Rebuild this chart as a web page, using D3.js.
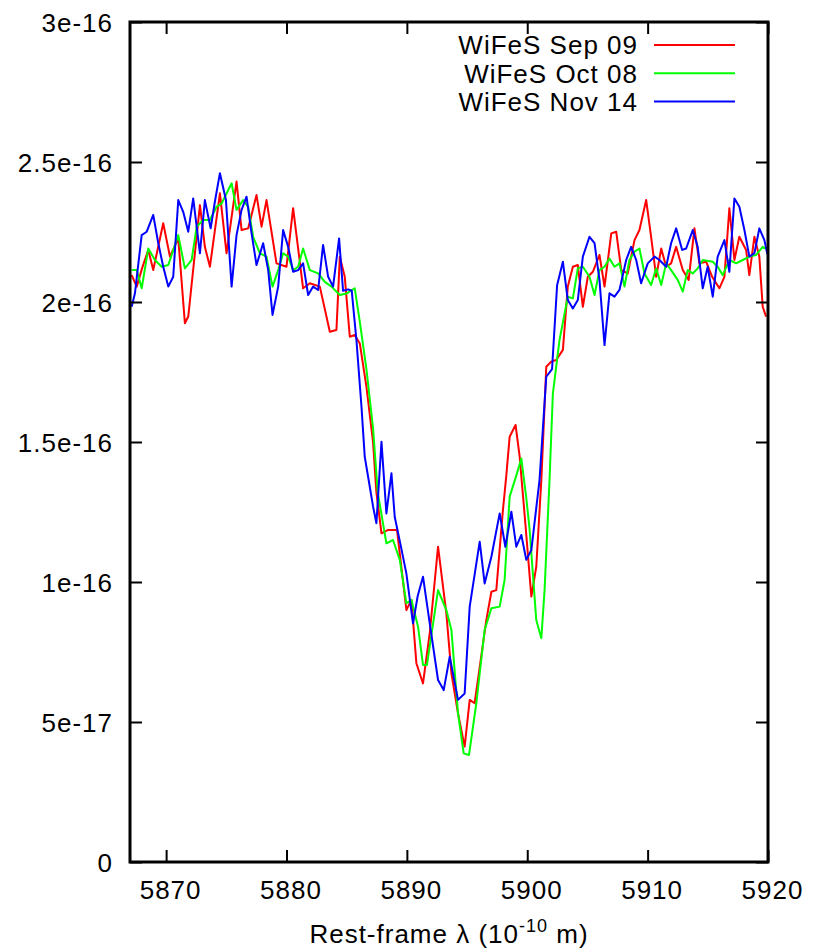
<!DOCTYPE html>
<html>
<head>
<meta charset="utf-8">
<script src="https://cdn.jsdelivr.net/npm/d3@7"></script>
<style>
  html, body { margin: 0; padding: 0; background: #fff; }
  svg { display: block; }
  text { font-family: "Liberation Sans", Arial, Helvetica, sans-serif; fill: #000; letter-spacing: 1px; }
</style>
</head>
<body>
<svg id="chart" width="820" height="950"></svg>
<script>
// Flux values are in units of 1e-16 (erg s^-1 cm^-2 A^-1), wavelengths in Angstrom.
const FLUX_UNIT = 1e-16;

// WiFeS Sep 09
const sepWave = [5867.14,5867.56,5868.00,5868.52,5868.93,5869.76,5870.32,5871.01,5871.56,5871.84,5872.81,5873.22,5873.64,5874.47,5875.02,5875.85,5876.27,5876.82,5877.51,5877.93,5878.34,5879.17,5880.00,5880.55,5881.38,5881.94,5882.77,5883.60,5884.15,5884.43,5884.84,5885.26,5885.67,5886.09,5886.64,5887.19,5887.47,5887.89,5888.44,5889.18,5889.96,5890.38,5890.79,5891.34,5891.90,5892.59,5893.28,5893.70,5894.25,5894.80,5895.22,5895.63,5896.60,5897.02,5897.43,5897.98,5898.26,5898.54,5899.03,5899.37,5899.86,5900.34,5900.75,5901.17,5901.58,5901.99,5902.41,5902.96,5903.37,5903.79,5904.20,5904.62,5905.03,5905.45,5906.00,5906.42,5906.98,5907.39,5907.81,5908.35,5908.91,5909.32,5909.88,5910.29,5910.71,5911.13,5911.54,5911.95,5912.37,5912.92,5913.41,5913.89,5914.30,5914.86,5915.36,5915.96,5916.38,5916.79,5917.21,5917.62,5918.18,5918.45,5918.87,5919.28,5919.56,5919.84];
const sepFlux = [2.096,2.055,2.120,2.186,2.114,2.281,2.162,2.227,1.924,1.948,2.346,2.197,2.126,2.388,2.174,2.430,2.257,2.263,2.382,2.269,2.364,2.138,2.126,2.335,2.049,2.067,2.055,1.894,1.900,2.162,2.090,1.876,1.882,1.852,1.698,1.500,1.320,1.174,1.186,1.186,0.900,0.936,0.710,0.638,0.817,1.126,0.888,0.674,0.531,0.412,0.579,0.567,0.864,0.965,0.971,1.257,1.380,1.519,1.561,1.448,1.200,0.948,1.055,1.364,1.769,1.787,1.793,1.829,2.055,2.126,2.132,1.983,2.090,2.108,2.168,2.055,2.245,2.251,2.114,2.102,2.221,2.257,2.364,2.233,2.090,2.191,2.126,2.138,2.197,2.114,2.079,2.263,2.138,2.144,2.090,2.049,2.090,2.335,2.150,2.233,2.186,2.096,2.233,2.162,1.983,1.948];

// WiFeS Oct 08
const octWave = [5867.14,5867.56,5867.97,5868.52,5869.07,5869.63,5870.18,5871.01,5871.56,5872.12,5872.54,5873.08,5873.64,5874.19,5874.61,5875.44,5875.85,5876.40,5876.82,5877.23,5877.79,5878.34,5878.84,5879.31,5879.72,5880.14,5880.55,5880.97,5881.38,5881.94,5882.63,5883.18,5883.74,5884.43,5884.98,5885.67,5886.09,5886.64,5887.19,5887.58,5888.30,5888.85,5889.41,5889.96,5890.38,5890.93,5891.34,5891.67,5892.59,5893.28,5893.70,5894.25,5894.72,5895.16,5895.77,5896.46,5897.02,5897.71,5898.12,5898.54,5899.09,5899.51,5899.92,5900.20,5900.75,5901.17,5901.44,5901.85,5902.13,5902.68,5903.37,5903.79,5904.20,5904.62,5905.17,5905.59,5906.00,5906.42,5906.83,5907.25,5907.66,5908.08,5908.49,5908.91,5909.32,5909.74,5910.29,5910.71,5911.13,5911.54,5911.95,5912.50,5912.92,5913.33,5913.75,5914.16,5914.58,5915.41,5915.82,5916.24,5916.79,5917.35,5917.90,5918.45,5919.01,5919.56,5919.86];
const octFlux = [2.114,2.114,2.049,2.191,2.150,2.126,2.132,2.239,2.120,2.150,2.269,2.293,2.293,2.340,2.352,2.424,2.329,2.364,2.340,2.233,2.174,2.162,2.055,2.114,2.174,2.162,2.114,2.126,2.191,2.114,2.102,2.072,2.055,2.025,2.030,2.049,1.930,1.760,1.550,1.320,1.138,1.150,1.079,0.924,0.936,0.840,0.704,0.704,0.971,0.900,0.829,0.531,0.388,0.382,0.567,0.829,0.906,0.912,1.007,1.305,1.380,1.441,1.300,1.186,0.864,0.799,0.971,1.364,1.674,1.864,2.019,2.013,2.120,2.126,2.090,2.025,2.114,2.126,2.155,2.126,2.138,2.055,2.150,2.180,2.191,2.102,2.061,2.120,2.061,2.138,2.114,2.079,2.037,2.114,2.102,2.120,2.150,2.144,2.126,2.096,2.150,2.138,2.150,2.162,2.168,2.197,2.190];

// WiFeS Nov 14
const novWave = [5867.14,5867.41,5867.97,5868.39,5868.93,5869.35,5869.76,5870.18,5870.59,5871.01,5871.42,5871.84,5872.25,5872.81,5873.22,5873.70,5874.05,5874.47,5874.97,5875.44,5875.85,5876.27,5876.68,5877.10,5877.51,5878.06,5878.48,5878.84,5879.31,5879.72,5880.14,5880.55,5880.97,5881.38,5881.80,5882.21,5882.63,5883.04,5883.46,5883.87,5884.37,5884.70,5885.12,5885.42,5885.81,5886.23,5886.50,5886.78,5887.19,5887.47,5887.89,5888.30,5888.72,5888.99,5889.49,5889.96,5890.51,5890.90,5891.34,5891.90,5892.59,5893.06,5893.56,5894.25,5894.80,5895.22,5896.05,5896.46,5897.02,5897.71,5898.18,5898.68,5899.09,5899.51,5899.92,5900.34,5901.02,5901.58,5902.06,5902.48,5902.96,5903.37,5903.79,5904.20,5904.62,5905.17,5905.59,5906.00,5906.42,5906.83,5907.25,5907.66,5908.22,5908.63,5909.05,5909.46,5910.01,5910.57,5910.98,5911.54,5911.95,5912.37,5912.87,5913.20,5913.75,5914.16,5914.58,5914.99,5915.41,5915.82,5916.38,5916.79,5917.21,5917.62,5918.04,5918.45,5918.87,5919.28,5919.70,5919.95];
const novFlux = [1.983,2.031,2.239,2.251,2.311,2.210,2.126,2.055,2.090,2.364,2.322,2.251,2.370,2.174,2.364,2.263,2.358,2.460,2.364,2.055,2.239,2.329,2.376,2.245,2.132,2.210,2.114,1.954,2.055,2.257,2.197,2.108,2.114,2.138,2.025,2.055,2.043,2.204,2.090,2.055,2.227,2.040,2.045,2.040,1.864,1.626,1.448,1.376,1.270,1.210,1.501,1.245,1.388,1.233,1.130,1.030,0.852,0.950,1.019,0.852,0.650,0.614,0.733,0.579,0.602,0.912,1.144,0.995,1.090,1.245,1.126,1.251,1.126,1.168,1.079,1.114,1.364,1.733,1.760,2.060,2.144,2.007,1.977,2.007,2.162,2.233,2.210,2.079,1.846,2.031,2.019,2.043,2.150,2.197,2.150,2.067,2.138,2.162,2.150,2.126,2.210,2.263,2.186,2.191,2.257,2.197,2.049,2.126,2.019,2.162,2.221,2.108,2.370,2.340,2.257,2.162,2.174,2.263,2.221,2.170];

const seriesNames = ["WiFeS Sep 09", "WiFeS Oct 08", "WiFeS Nov 14"];
const seriesColors = ["#ff0000", "#00ff00", "#0000ff"];

const xTicks = [5870, 5880, 5890, 5900, 5910, 5920];
const yTicks = [0, 0.5e-16, 1e-16, 1.5e-16, 2e-16, 2.5e-16, 3e-16];
const yTickLabels = ["0", "5e-17", "1e-16", "1.5e-16", "2e-16", "2.5e-16", "3e-16"];
const xDomain = [5867, 5920];
const yDomain = [0, 3e-16];

const series = [
  { name: seriesNames[0], color: seriesColors[0], wave: sepWave, flux: sepFlux },
  { name: seriesNames[1], color: seriesColors[1], wave: octWave, flux: octFlux },
  { name: seriesNames[2], color: seriesColors[2], wave: novWave, flux: novFlux }
];

const plot = { left: 130, right: 768, top: 22, bottom: 862 };
const svg = d3.select("#chart");

const x = d3.scaleLinear().domain(xDomain).range([plot.left, plot.right]);
const y = d3.scaleLinear().domain(yDomain).range([plot.bottom, plot.top]);

svg.append("defs").append("clipPath").attr("id", "plot-clip")
  .append("rect")
  .attr("x", plot.left).attr("y", plot.top)
  .attr("width", plot.right - plot.left).attr("height", plot.bottom - plot.top);

// Spectra
const line = d3.line()
  .x(d => x(d[0]))
  .y(d => y(d[1] * FLUX_UNIT));

const lines = svg.append("g").attr("clip-path", "url(#plot-clip)");
series.forEach(s => {
  const pts = s.wave.map((w, i) => [w, s.flux[i]]);
  lines.append("path")
    .datum(pts)
    .attr("d", line)
    .attr("fill", "none")
    .attr("stroke", s.color)
    .attr("stroke-width", 2)
    .attr("stroke-linejoin", "round");
});

// Axes with inward ticks on all four sides
const TICK = 12;
const fontSize = 26;

const gBottom = svg.append("g").attr("transform", `translate(0,${plot.bottom})`)
  .call(d3.axisBottom(x).tickValues(xTicks).tickSize(-TICK).tickFormat(d3.format("d")));
const gTop = svg.append("g").attr("transform", `translate(0,${plot.top})`)
  .call(d3.axisTop(x).tickValues(xTicks).tickSize(-TICK).tickFormat(""));
const gLeft = svg.append("g").attr("transform", `translate(${plot.left},0)`)
  .call(d3.axisLeft(y).tickValues(yTicks).tickSize(-TICK)
    .tickFormat((d, i) => yTickLabels[i]));
const gRight = svg.append("g").attr("transform", `translate(${plot.right},0)`)
  .call(d3.axisRight(y).tickValues(yTicks).tickSize(-TICK).tickFormat(""));

[gBottom, gTop, gLeft, gRight].forEach(g => {
  g.select(".domain").remove();
  g.selectAll(".tick line").attr("stroke", "#000").attr("stroke-width", 2);
  g.selectAll(".tick text")
    .attr("font-family", "Liberation Sans, Arial, sans-serif")
    .attr("font-size", fontSize)
    .attr("fill", "#000");
});
gBottom.selectAll(".tick text").attr("dy", "0.71em").attr("y", 19).attr("dx", 4);
gLeft.selectAll(".tick text").attr("x", -17).attr("dy", "0.35em");

// Plot border
svg.append("rect")
  .attr("x", plot.left).attr("y", plot.top)
  .attr("width", plot.right - plot.left).attr("height", plot.bottom - plot.top)
  .attr("fill", "none").attr("stroke", "#000").attr("stroke-width", 3);

// Axis title
const title = svg.append("text")
  .attr("x", (plot.left + plot.right) / 2)
  .attr("y", 943)
  .attr("text-anchor", "middle")
  .attr("font-size", fontSize);
title.append("tspan").text("Rest-frame λ (10");
title.append("tspan").attr("font-size", 18).attr("dy", -11).text("-10");
title.append("tspan").attr("dy", 11).text(" m)");

// Legend
const legend = svg.append("g");
series.forEach((s, i) => {
  const cy = 45 + i * 28.3;
  legend.append("text")
    .attr("x", 638).attr("y", cy).attr("dy", "0.36em")
    .attr("text-anchor", "end")
    .attr("font-size", fontSize)
    .text(s.name);
  legend.append("line")
    .attr("x1", 654).attr("x2", 735)
    .attr("y1", cy).attr("y2", cy)
    .attr("stroke", s.color).attr("stroke-width", 2);
});
</script>
</body>
</html>
